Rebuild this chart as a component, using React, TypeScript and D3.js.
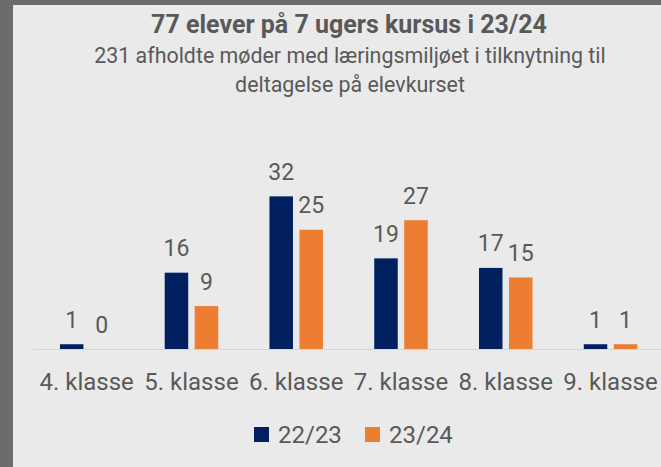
import React from "react";
import * as d3 from "d3";

const categories = ["4. klasse", "5. klasse", "6. klasse", "7. klasse", "8. klasse", "9. klasse"];
const seriesNames = ["22/23", "23/24"];
const values2223 = [1, 16, 32, 19, 17, 1];
const values2324 = [0, 9, 25, 27, 15, 1];
const seriesColors = ["#002060", "#ED7D31"];
const titleText = "77 elever på 7 ugers kursus i 23/24";
const subtitleLines = [
  "231 afholdte møder med læringsmiljøet i tilknytning til",
  "deltagelse på elevkurset",
];

const W = 661;
const H = 467;
const FONT = "Roboto, 'Open Sans', sans-serif";
const TEXT = "#595959";

export default function App() {
  const series = [values2223, values2324];
  const x0 = d3.scaleBand<string>().domain(categories).range([34.3, 662.9]).padding(0);
  const groupW = 53.5;
  const x1 = d3.scaleBand<string>().domain(seriesNames).range([0, groupW]).paddingInner(0.2167).paddingOuter(0);
  const y = d3.scaleLinear().domain([0, 35]).range([349, 349 - 35 * 4.77]);

  return (
    <svg
      width={W}
      height={H}
      style={{ position: "absolute", left: 0, top: 0, display: "block" }}
      fontFamily={FONT}
    >
      <rect x={0} y={0} width={W} height={H} fill="#6b6b6b" />
      <rect x={13} y={5} width={W - 13} height={H - 5} fill="#eaeaea" />

      <text x={349} y={33} textAnchor="middle" fontSize={25} fontWeight="bold" fill={TEXT}>
        {titleText}
      </text>
      {subtitleLines.map((s, i) => (
        <text key={i} x={350} y={63 + i * 29} textAnchor="middle" fontSize={21.4} fill={TEXT}>
          {s}
        </text>
      ))}

      <line x1={33} x2={W} y1={349.5} y2={349.5} stroke="#d6d6d6" strokeWidth={1} />

      {categories.map((c, ci) => {
        const gx = (x0(c) as number) + x0.bandwidth() / 2 - groupW / 2;
        return (
          <g key={c}>
            {seriesNames.map((s, si) => {
              const v = series[si][ci];
              const bx = gx + (x1(s) as number);
              const bw = x1.bandwidth();
              return (
                <g key={s}>
                  {v > 0 && (
                    <rect x={bx} y={y(v)} width={bw} height={y(0) - y(v)} fill={seriesColors[si]} />
                  )}
                  <text
                    x={bx + bw / 2}
                    y={y(v) - 16.5}
                    textAnchor="middle"
                    fontSize={23}
                    fill={TEXT}
                  >
                    {v}
                  </text>
                </g>
              );
            })}
            <text
              x={(x0(c) as number) + x0.bandwidth() / 2}
              y={390}
              textAnchor="middle"
              fontSize={24}
              fill={TEXT}
            >
              {c}
            </text>
          </g>
        );
      })}

      {seriesNames.map((s, i) => {
        const lx = [254, 365][i];
        return (
          <g key={s}>
            <rect x={lx} y={427} width={15} height={15} fill={seriesColors[i]} />
            <text x={lx + 24} y={443} fontSize={24} fill={TEXT}>
              {s}
            </text>
          </g>
        );
      })}
    </svg>
  );
}
